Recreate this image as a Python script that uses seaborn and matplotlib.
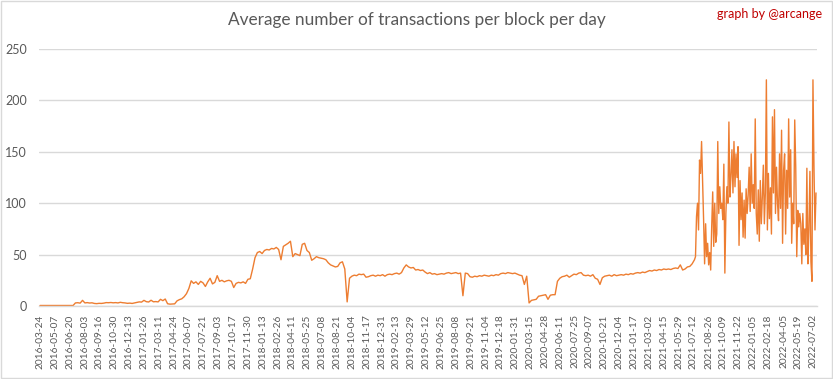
import matplotlib
matplotlib.use("Agg")
import matplotlib.pyplot as plt
import matplotlib.patches as mpatches
import seaborn as sns
import pandas as pd

# Weekly readings 2016-03-24 .. 2021-07-15 (calm period)
weekly_start = "2016-03-24"
weekly_values = [
    0.5, 0.5, 0.5, 0.5, 0.5, 0.5, 0.5, 0.5, 0.5, 0.5,
    0.5, 0.5, 0.5, 0.5, 0.5, 3.0, 3.2, 2.8, 5.5, 3.0,
    3.3, 2.9, 3.1, 2.5, 2.3, 2.6, 2.5, 2.8, 3.3, 3.2,
    3.4, 3.1, 3.3, 3.0, 3.6, 3.2, 3.0, 2.6, 2.8, 2.5,
    3.0, 3.6, 4.0, 3.8, 5.5, 4.2, 3.9, 5.6, 4.1, 4.3,
    4.0, 6.5, 5.2, 6.8, 2.2, 1.8, 2.0, 2.1, 5.0, 6.2,
    7.0, 9.0, 12.0, 17.0, 24.5, 22.0, 23.5, 21.0, 24.0, 22.5,
    19.0, 23.5, 27.0, 21.5, 23.0, 29.5, 24.0, 25.0, 23.5, 24.5,
    25.0, 24.0, 18.0, 22.0, 23.0, 22.5, 23.5, 22.0, 26.0, 26.5,
    36.0, 47.0, 52.0, 53.0, 51.0, 54.0, 55.0, 54.5, 56.0, 55.5,
    57.0, 55.0, 45.0, 58.0, 59.5, 61.0, 63.0, 48.0, 51.0, 50.0,
    49.0, 60.0, 61.0, 54.0, 52.0, 44.5, 46.0, 48.0, 47.0, 46.5,
    46.0, 45.0, 42.0, 40.0, 39.0, 38.0, 38.5, 42.0, 43.0, 36.0,
    4.0, 27.0, 29.0, 30.0, 29.5, 31.0, 30.5, 31.0, 28.0, 28.5,
    29.5, 30.0, 29.0, 30.0, 29.5, 30.5, 29.0, 30.5, 31.0, 30.5,
    31.5, 32.0, 31.0, 32.5, 37.0, 40.0, 38.0, 37.0, 37.5, 35.0,
    35.5, 34.5, 35.0, 33.0, 31.5, 32.5, 31.0, 31.5, 30.5, 31.0,
    31.5, 31.0, 32.0, 32.5, 31.5, 32.0, 32.5, 31.5, 32.0, 10.0,
    32.0, 31.5, 28.5, 28.0, 29.0, 28.5, 29.5, 29.0, 30.0, 29.5,
    29.0, 30.0, 29.5, 30.5, 30.0, 31.5, 32.0, 31.5, 32.5, 32.0,
    31.5, 32.0, 31.0, 30.0, 29.5, 21.0, 29.0, 3.0, 5.5, 6.0,
    6.5, 9.5, 10.0, 10.5, 11.0, 6.5, 10.5, 11.0, 11.0, 24.0,
    27.0, 28.5, 29.0, 30.0, 28.0, 29.5, 31.0, 30.5, 32.0, 32.5,
    30.0, 29.5, 30.0, 29.0, 30.5, 27.0, 26.0, 21.0, 27.5, 29.0,
    29.5, 30.0, 29.0, 30.5, 29.5, 30.0, 30.5, 30.0, 31.0, 30.5,
    31.5, 31.0, 32.0, 32.5, 32.0, 33.0, 32.5, 33.5, 34.5, 34.0,
    35.0, 34.5, 35.5, 35.0, 36.0, 35.5, 36.0, 35.5, 36.5, 37.0,
    36.5, 40.0, 35.0, 36.0, 38.0, 38.5, 41.0, 45.0,
]

# Readings every 3 days from 2021-07-18 (volatile period)
volatile_start = "2021-07-18"
volatile_values = [
    48, 87, 100, 74, 142, 129, 160, 122, 84, 41,
    80, 48, 61, 40, 52, 35, 77, 111, 58, 100,
    62, 70, 160, 90, 116, 95, 100, 84, 138, 32,
    90, 116, 100, 179, 106, 126, 152, 110, 160, 116,
    148, 125, 155, 59, 122, 84, 110, 67, 103, 66,
    114, 90, 108, 135, 92, 148, 100, 118, 95, 182,
    90, 70, 113, 63, 122, 80, 106, 137, 80, 110,
    220, 74, 129, 85, 115, 70, 184, 110, 191, 90,
    135, 100, 83, 148, 95, 171, 61, 132, 148, 70,
    132, 95, 182, 106, 152, 61, 100, 80, 181, 135,
    48, 93, 77, 90, 80, 41, 90, 60, 75, 50,
    134, 41, 74, 131, 43, 24, 220, 136, 74, 110,
]

tick_labels = [
    "2016-03-24", "2016-05-07", "2016-06-20", "2016-08-03", "2016-09-16",
    "2016-10-30", "2016-12-13", "2017-01-26", "2017-03-11", "2017-04-24",
    "2017-06-07", "2017-07-21", "2017-09-03", "2017-10-17", "2017-11-30",
    "2018-01-13", "2018-02-26", "2018-04-11", "2018-05-25", "2018-07-08",
    "2018-08-21", "2018-10-04", "2018-11-17", "2018-12-31", "2019-02-13",
    "2019-03-29", "2019-05-12", "2019-06-25", "2019-08-08", "2019-09-21",
    "2019-11-04", "2019-12-18", "2020-01-31", "2020-03-15", "2020-04-28",
    "2020-06-11", "2020-07-25", "2020-09-07", "2020-10-21", "2020-12-04",
    "2021-01-17", "2021-03-02", "2021-04-15", "2021-05-29", "2021-07-12",
    "2021-08-26", "2021-10-09", "2021-11-22", "2022-01-05", "2022-02-18",
    "2022-04-05", "2022-05-19", "2022-07-02",
]

df = pd.concat([
    pd.DataFrame({"date": pd.date_range(weekly_start, periods=len(weekly_values), freq="7D"),
                  "value": weekly_values}),
    pd.DataFrame({"date": pd.date_range(volatile_start, periods=len(volatile_values), freq="3D"),
                  "value": volatile_values}),
], ignore_index=True)

sns.set_theme(style="white")
plt.rcParams["font.family"] = ["Lato", "DejaVu Sans"]

grey = "#595959"
fig = plt.figure(figsize=(8.33, 3.79), dpi=100)
ax = fig.add_axes([0.0472, 0.1926, 0.9336, 0.6781])

sns.lineplot(data=df, x="date", y="value", color="#ED7D31", linewidth=1.0, ax=ax)

ax.set_xlim(pd.Timestamp("2016-03-22"), pd.Timestamp("2022-07-13"))
ax.set_ylim(0, 250)
ax.set_yticks(range(0, 251, 50))
ax.set_xticks(pd.to_datetime(tick_labels))
ax.set_xticklabels(tick_labels, rotation=90)
ax.tick_params(axis="both", length=0, colors=grey)
ax.tick_params(axis="y", pad=9, labelsize=9)
ax.tick_params(axis="x", pad=6, labelsize=7.3)
ax.grid(axis="y", color="#d9d9d9", linewidth=1)
ax.set_axisbelow(True)
ax.set_xlabel("")
ax.set_ylabel("")
for side in ["top", "right", "left"]:
    ax.spines[side].set_visible(False)
ax.spines["bottom"].set_color("#d9d9d9")
ax.spines["bottom"].set_linewidth(1)

fig.text(0.5, 0.947, "Average number of transactions per block per day",
         ha="center", va="center", fontsize=12.4, color=grey)
fig.text(0.987, 0.963, "graph by @arcange", ha="right", va="center",
         fontsize=9, color="#C00000")
fig.patches.append(mpatches.Rectangle((0.001, 0.002), 0.998, 0.996, transform=fig.transFigure,
                                      fill=False, edgecolor="#d9d9d9", linewidth=1))

fig.savefig("out.png", dpi=100)
